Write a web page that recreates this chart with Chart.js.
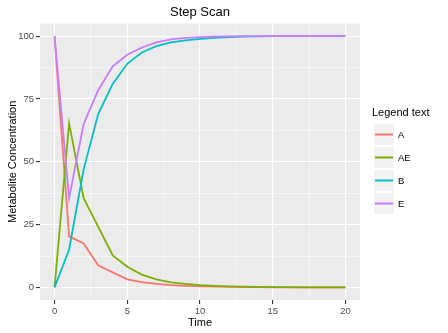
<!DOCTYPE html>
<html>
<head>
<meta charset="utf-8">
<script src="https://cdn.jsdelivr.net/npm/chart.js@4"></script>
<style>
  html, body { margin: 0; padding: 0; background: #fff; }
  #wrap { width: 448px; height: 333px; }
</style>
</head>
<body>
<div id="wrap"><canvas id="chart" width="448" height="333"></canvas></div>
<script>
// values
const time = [0, 1, 2, 3, 4, 5, 6, 7, 8, 9, 10, 11, 12, 13, 14, 15, 16, 17, 18, 19, 20];
const seriesNames = ['A', 'AE', 'B', 'E'];
const valuesA  = [100, 20.3, 17.5, 8.8, 6, 3.2, 2.1, 1.4, 0.9, 0.6, 0.4, 0.3, 0.2, 0.1, 0.1, 0, 0, 0, 0, 0, 0];
const valuesAE = [0, 65.3, 35.5, 24.2, 12.7, 8.2, 5.1, 3.2, 2, 1.4, 0.9, 0.6, 0.4, 0.3, 0.2, 0.1, 0.1, 0, 0, 0, 0];
const valuesB  = [0, 15, 47, 69, 81, 89, 93.5, 96, 97.5, 98.3, 98.9, 99.3, 99.6, 99.8, 99.9, 100, 100, 100, 100, 100, 100];
const valuesE  = [100, 35.5, 65, 78.5, 88, 92.6, 95.5, 97.5, 98.7, 99.3, 99.6, 99.8, 99.9, 100, 100, 100, 100, 100, 100, 100, 100];
const xTicks = [0, 2.5, 5, 7.5, 10, 12.5, 15, 17.5, 20];
const yTicks = [0, 12.5, 25, 37.5, 50, 62.5, 75, 87.5, 100];
const colors = ['#F8766D', '#7CAE00', '#00BFC4', '#C77CFF'];

const allValues = [valuesA, valuesAE, valuesB, valuesE];
const FONT = "'Liberation Sans', Arial, sans-serif";

// grey panel like ggplot
const panelBg = {
    id: 'panelBg',
    beforeDraw(chart) {
        const a = chart.chartArea;
        const ctx = chart.ctx;
        ctx.save();
        ctx.fillStyle = '#EBEBEB';
        ctx.fillRect(a.left, a.top, a.right - a.left, a.bottom - a.top);
        ctx.restore();
    }
};

// legend drawn by hand (keys with grey boxes)
const sideLegend = {
    id: 'sideLegend',
    afterDraw(chart) {
        const ctx = chart.ctx;
        const x0 = 373, y0 = 123, key = 23;
        ctx.save();
        ctx.fillStyle = '#000';
        ctx.font = '11px ' + FONT;
        ctx.textBaseline = 'middle';
        ctx.fillText('Legend text', 372, 113);
        seriesNames.forEach((name, i) => {
            const y = y0 + i * key;
            ctx.fillStyle = '#F2F2F2';
            ctx.fillRect(x0, y, 22, key);
            ctx.strokeStyle = '#fff';
            ctx.lineWidth = 1;
            ctx.strokeRect(x0 + 0.5, y + 0.5, 21, key - 1);
            ctx.strokeStyle = colors[i];
            ctx.lineWidth = 2;
            ctx.beginPath();
            ctx.moveTo(x0 + 2, y + key / 2);
            ctx.lineTo(x0 + 20, y + key / 2);
            ctx.stroke();
            ctx.fillStyle = '#000';
            ctx.font = '9.5px ' + FONT;
            ctx.fillText(name, 398, y + key / 2 + 0.5);
        });
        ctx.restore();
    }
};

const datasets = seriesNames.map((name, i) => ({
    label: name,
    data: time.map((t, j) => ({ x: t, y: allValues[i][j] })),
    borderColor: colors[i],
    backgroundColor: colors[i],
    borderWidth: 1.8,
    pointRadius: 0,
    tension: 0,
    order: seriesNames.length - i
}));

const ctx = document.getElementById('chart');
new Chart(ctx, {
    type: 'line',
    data: { datasets: datasets },
    options: {
        responsive: false,
        animation: false,
        layout: { padding: { left: 0, right: 88, top: 0, bottom: 0 } },
        plugins: {
            legend: { display: false },
            tooltip: { enabled: false },
            title: {
                display: true,
                text: 'Step Scan',
                fullSize: false,
                color: '#000',
                font: { family: FONT, size: 13, weight: 'normal', lineHeight: 1.2 },
                padding: { top: 5, bottom: 3 }
            }
        },
        scales: {
            x: {
                type: 'linear',
                min: -1,
                max: 21,
                afterBuildTicks: s => { s.ticks = xTicks.map(v => ({ value: v })); },
                afterFit: s => { s.height = 33; },
                border: { display: false },
                grid: {
                    color: '#fff',
                    lineWidth: c => (c.tick && c.tick.value % 5 === 0 ? 1.1 : 0.5),
                    tickColor: c => (c.tick && c.tick.value % 5 === 0 ? '#333' : 'rgba(0,0,0,0)'),
                    tickLength: 4
                },
                ticks: {
                    color: '#4D4D4D',
                    font: { family: FONT, size: 9.5 },
                    padding: 2,
                    maxRotation: 0,
                    callback: v => (v % 5 === 0 ? String(v) : '')
                },
                title: {
                    display: true,
                    text: 'Time',
                    color: '#000',
                    font: { family: FONT, size: 11 },
                    padding: { top: 0, bottom: 3 }
                }
            },
            y: {
                type: 'linear',
                min: -5,
                max: 105,
                afterBuildTicks: s => { s.ticks = yTicks.map(v => ({ value: v })); },
                afterFit: s => { s.width = 40; },
                border: { display: false },
                grid: {
                    color: '#fff',
                    lineWidth: c => (c.tick && c.tick.value % 25 === 0 ? 1.1 : 0.5),
                    tickColor: c => (c.tick && c.tick.value % 25 === 0 ? '#333' : 'rgba(0,0,0,0)'),
                    tickLength: 4
                },
                ticks: {
                    color: '#4D4D4D',
                    font: { family: FONT, size: 9.5 },
                    padding: 2,
                    callback: v => (v % 25 === 0 ? String(v) : '')
                },
                title: {
                    display: true,
                    text: 'Metabolite Concentration',
                    color: '#000',
                    font: { family: FONT, size: 11 },
                    padding: { top: 6, bottom: 0 }
                }
            }
        }
    },
    plugins: [panelBg, sideLegend]
});
</script>
</body>
</html>
